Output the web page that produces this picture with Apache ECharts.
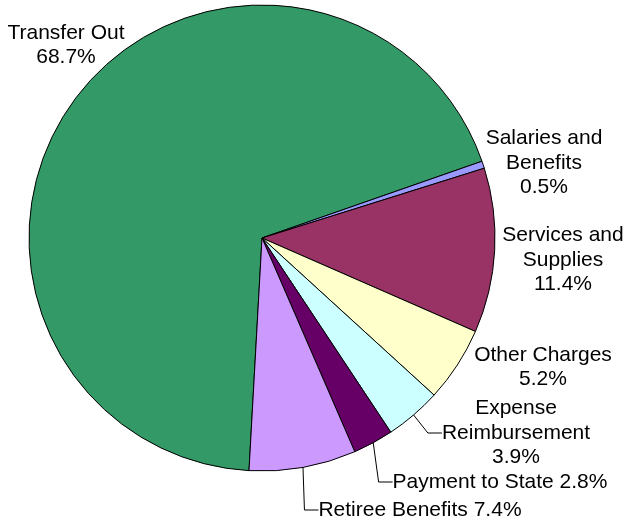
<!DOCTYPE html>
<html>
<head>
<meta charset="utf-8">
<script src="https://cdn.jsdelivr.net/npm/echarts@6/dist/echarts.min.js"></script>
<style>
  html, body { margin: 0; padding: 0; background: #ffffff; }
  #chart { width: 626px; height: 525px; }
</style>
</head>
<body>
<div id="chart"></div>
<script>
// Expenditure categories, clockwise from just left of the bottom of the pie
var categories = [
  'Transfer Out',
  'Salaries and\nBenefits',
  'Services and\nSupplies',
  'Other Charges',
  'Expense\nReimbursement',
  'Payment to State',
  'Retiree Benefits'
];
var percents = [68.7, 0.5, 11.4, 5.2, 3.9, 2.8, 7.4];
var sliceColors = ['#339966', '#9999FF', '#993366', '#FFFFCC', '#CCFFFF', '#660066', '#CC99FF'];

// Label text: name and percentage on separate lines, or on one line
var inlineLabel = [false, false, false, false, false, true, true];
// Which labels are joined to their slice by a leader line
var hasLeader = [false, false, false, false, true, true, true];

// Label block centres (px) around the pie
var labelSpots = [
  [66, 45],
  [544, 163],
  [563, 260],
  [543, 367],
  [516, 433],
  [500, 482],
  [420, 510]
];

var data = categories.map(function (name, i) {
  return {
    name: name,
    value: percents[i],
    itemStyle: { color: sliceColors[i] },
    label: {
      formatter: function (p) {
        return p.name + (inlineLabel[i] ? ' ' : '\n') + percents[i].toFixed(1) + '%';
      }
    },
    labelLine: { show: hasLeader[i] }
  };
});

var chart = echarts.init(document.getElementById('chart'), null, { renderer: 'canvas' });
chart.setOption({
  animation: false,
  backgroundColor: '#ffffff',
  series: [{
    type: 'pie',
    center: [262, 238],
    radius: 233,
    startAngle: 266.8,
    clockwise: true,
    avoidLabelOverlap: false,
    data: data,
    itemStyle: { borderColor: '#000000', borderWidth: 1 },
    label: {
      show: true,
      position: 'outside',
      color: '#000000',
      fontFamily: 'Liberation Sans, Arial, sans-serif',
      fontSize: 21,
      lineHeight: 24.5,
      overflow: 'none'
    },
    labelLine: {
      length: 10,
      length2: 14,
      smooth: false,
      lineStyle: { color: '#000000', width: 1 }
    },
    emphasis: { disabled: true },
    labelLayout: function (params) {
      var s = labelSpots[params.dataIndex];
      return { x: s[0], y: s[1], align: 'center', verticalAlign: 'middle', hideOverlap: false };
    }
  }]
});
</script>
</body>
</html>
